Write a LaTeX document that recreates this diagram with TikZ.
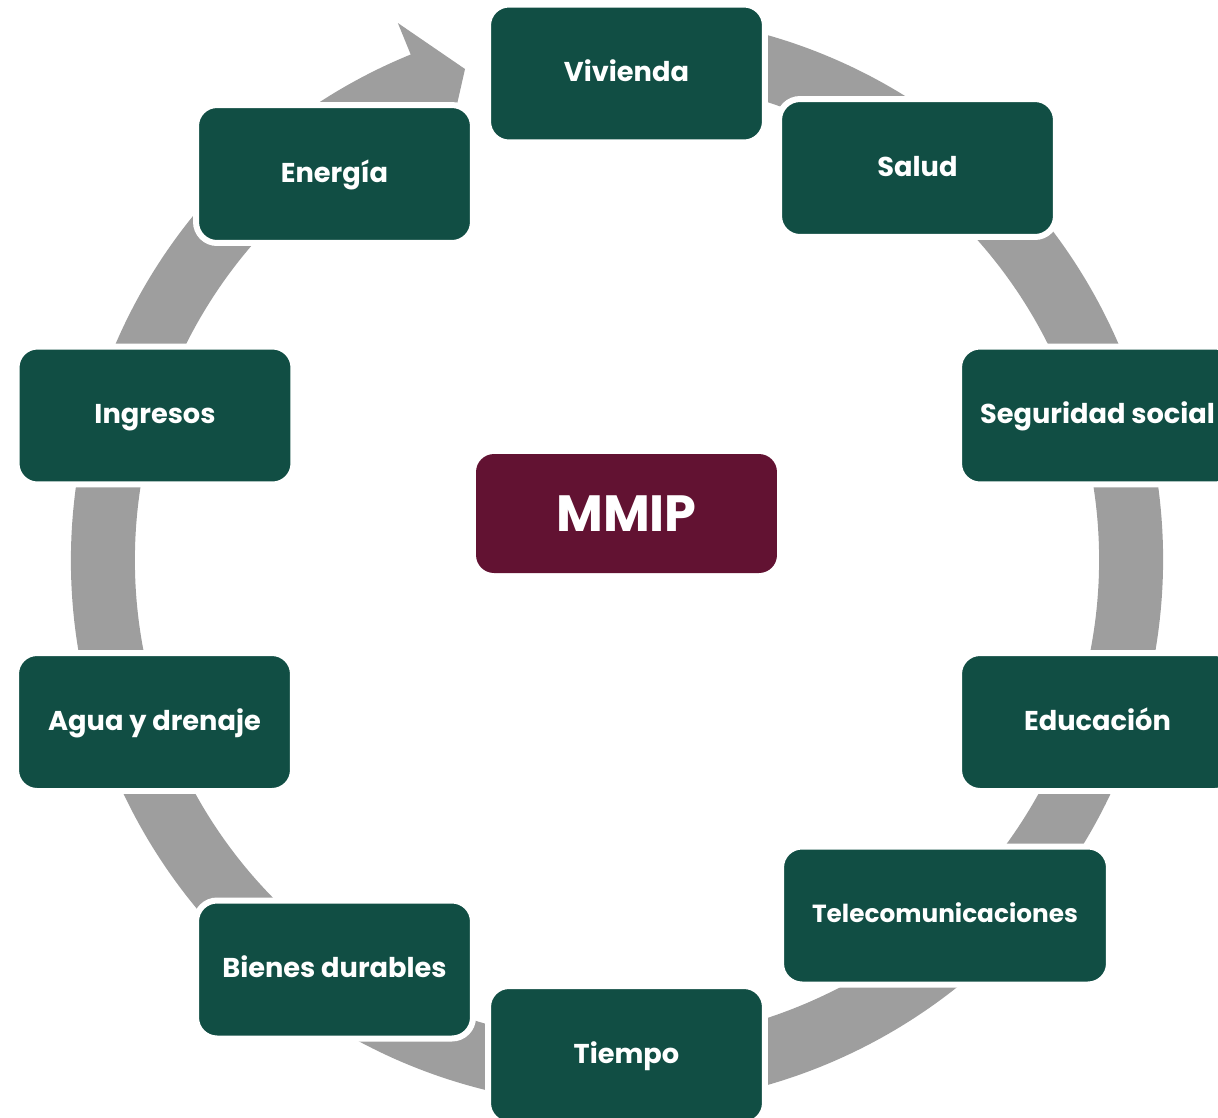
\documentclass[tikz,border=0pt]{standalone}
\usepackage{fontspec}
\setmainfont{Poppins}
\definecolor{dgreen}{RGB}{17,78,68}
\definecolor{maroon}{RGB}{98,18,50}
\definecolor{ringgray}{RGB}{158,158,158}
\tikzset{
  box/.style={rectangle, rounded corners=0.42cm, fill=dgreen, draw=white,
    line width=0.12cm, minimum width=5.54cm, minimum height=2.76cm,
    inner sep=0pt, text=white, text height=12pt, text depth=2.6pt,
    font=\bfseries\fontsize{15.5}{18}\selectfont},
  widebox/.style={box, minimum width=6.56cm, text height=11pt, text depth=2.6pt,
    font=\bfseries\fontsize{14.1}{17}\selectfont},
  mbox/.style={rectangle, rounded corners=0.36cm, fill=maroon, draw=none,
    minimum width=6.02cm, minimum height=2.38cm, inner sep=0pt, text=white,
    font=\bfseries\fontsize{29}{32}\selectfont},
  ring/.style={fill=ringgray, draw=none}
}
\begin{document}
\begin{tikzpicture}[x=0.02cm, y=-0.02cm]
\useasboundingbox (0,0) rectangle (1218,1117);
\begin{scope}
\clip (0,0) rectangle (1218,1117);
% circular arrow ring
\begin{scope}[shift={(617,560)}, yscale=-1]
  \path[ring] (80:546) arc[start angle=80, end angle=-247.8, radius=546]
     -- (-247.8:580) -- (-252.8:514) -- (-247.8:448) -- (-247.8:482)
     arc[start angle=-247.8, end angle=80, radius=482] -- cycle;
\end{scope}
% boxes
\node[box] (viv) at (626.5,73.5) {Vivienda};
\node[box] (sal) at (917.5,168) {Salud};
\node[box] (seg) at (1097.5,415.5) {Seguridad social};
\node[box] (edu) at (1097.5,722) {Educación};
\node[widebox] (tel) at (945,915.5) {Telecomunicaciones};
\node[box] (tie) at (626.5,1055) {Tiempo};
\node[box] (bie) at (334.5,969.5) {Bienes durables};
\node[box] (agu) at (154.5,722) {Agua y drenaje};
\node[box] (ing) at (155,415.5) {Ingresos};
\node[box] (ene) at (334.5,174) {Energía};
\node[mbox] (mmip) at (626.5,513.5) {MMIP};
\end{scope}
\end{tikzpicture}
\end{document}
